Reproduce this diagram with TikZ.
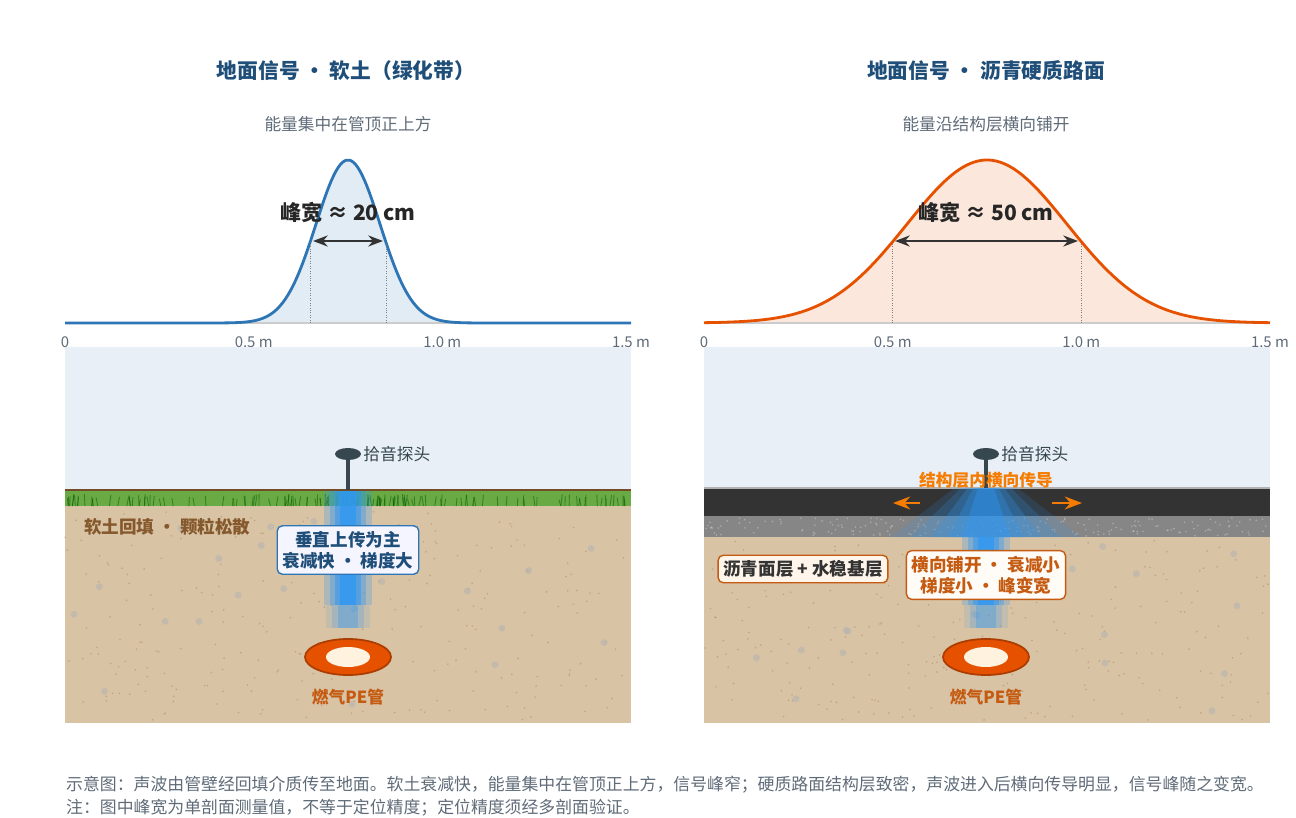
\documentclass[tikz,border=0pt]{standalone}
\usepackage{fontspec}
\setmainfont{Noto Sans CJK SC}
\usetikzlibrary{arrows.meta,shapes.geometric}
\definecolor{titleblue}{HTML}{1F4E79}
\definecolor{subgray}{HTML}{5F6B78}
\definecolor{sky}{HTML}{E8EFF7}
\definecolor{soil}{HTML}{D8C3A5}
\definecolor{grass}{HTML}{6AAA45}
\definecolor{probe}{HTML}{37474F}
\definecolor{beam}{HTML}{2E97F2}
\definecolor{pipeor}{HTML}{E65100}
\definecolor{pipein}{HTML}{FFF3E0}
\definecolor{softblue}{HTML}{2E75B6}
\definecolor{hardor}{HTML}{E65100}
\definecolor{labor}{HTML}{F57C00}
\definecolor{boxor}{HTML}{C55A11}
\tikzset{
  title/.style={font=\bfseries\fontsize{11.8}{14}\selectfont, text=titleblue},
  subtitle/.style={font=\fontsize{9.5}{11}\selectfont, text=subgray},
  tick/.style={font=\fontsize{8.5}{10}\selectfont, text=subgray},
  peaklab/.style={font=\bfseries\fontsize{12}{14}\selectfont, text=black!85},
  note/.style={rounded corners=3pt, fill=white!96!blue, line width=0.8pt, align=center,
    inner sep=3pt, font=\bfseries\fontsize{10}{12}\selectfont},
  pipelab/.style={font=\bfseries\fontsize{9.5}{11}\selectfont, text=boxor},
  foot/.style={font=\fontsize{9.6}{11}\selectfont, text=subgray, anchor=west}
}
\begin{document}
\begin{tikzpicture}[x=0.02cm,y=-0.02cm]
\useasboundingbox (0,0) rectangle (1296,818);
\pgfmathsetseed{7}
% ---- titles
\node[title] (t1) at (346,71) {地面信号 • 软土（绿化带）};
\node[title] (t2) at (986,71) {地面信号 • 沥青硬质路面};
\node[subtitle] (s1) at (348,124) {能量集中在管顶正上方};
\node[subtitle] (s2) at (986,124) {能量沿结构层横向铺开};
% ---- curves
\foreach \ox/\c/\sg/\w in {65/softblue/32/38, 704/hardor/80/94.5}{
  \begin{scope}[xshift=\ox*0.02cm]
  \fill[\c!14] (0,323) -- plot[domain=0:566,samples=150,smooth] (\x,{323-163*exp(-0.5*((\x-283)/\sg)^2)}) -- (566,323) -- cycle;
  \draw[gray!40, line width=0.8pt] (0,323) -- (566,323);
  \draw[\c, line width=1.6pt] plot[domain=0:566,samples=150,smooth] (\x,{323-163*exp(-0.5*((\x-283)/\sg)^2)});
  \draw[gray, densely dotted] (283-\w,323) -- (283-\w,{323-163*exp(-0.5*(\w/\sg)^2)});
  \draw[gray, densely dotted] (283+\w,323) -- (283+\w,{323-163*exp(-0.5*(\w/\sg)^2)});
  \foreach \p/\t in {0/0, 188.7/0.5 m, 377.3/1.0 m, 566/1.5 m}
    \node[tick] at (\p,342) {\t};
  \end{scope}}
\node[peaklab] (p1) at (348,212) {峰宽 ≈ 20 cm};
\node[peaklab] (p2) at (986,212) {峰宽 ≈ 50 cm};
\coordinate (a1l) at (313,241); \coordinate (a1r) at (383,241);
\coordinate (a2l) at (895,241); \coordinate (a2r) at (1078,241);
\draw[{Stealth}-{Stealth}, line width=1.2pt, black!80] (a1l) -- (a1r);
\draw[{Stealth}-{Stealth}, line width=1.2pt, black!80] (a2l) -- (a2r);
% ---- left section
\fill[sky] (65,347) rectangle (631,490);
\fill[soil] (65,490) rectangle (631,723);
\foreach \i in {1,...,260}{
  \pgfmathsetmacro\xx{65+566*rnd}\pgfmathsetmacro\yy{510+210*rnd}
  \fill[brown!55!gray, opacity=0.45] (\xx,\yy) circle (0.9);}
\foreach \i in {1,...,25}{
  \pgfmathsetmacro\xx{70+556*rnd}\pgfmathsetmacro\yy{515+200*rnd}
  \fill[gray!60, opacity=0.5] (\xx,\yy) circle (3.5);}
\fill[grass] (65,490) rectangle (631,506);
\foreach \i in {1,...,140}{
  \pgfmathsetmacro\xx{66+563*rnd}
  \draw[green!35!black, opacity=0.5, line width=0.5pt] (\xx,506) -- ++({4*rnd-2},{-6-6*rnd});}
\draw[brown!60!black, line width=1.5pt] (65,490) -- (631,490);
\foreach \d/\o in {24/0.25, 18/0.35, 13/0.5, 8/0.7}
  \fill[beam, opacity=\o] (348-\d,491) rectangle (348+\d,605);
\foreach \d/\o in {22/0.12, 16/0.2, 10/0.3}
  \fill[beam, opacity=\o] (348-\d,605) rectangle (348+\d,628);
\node[font=\bfseries\fontsize{10}{12}\selectfont, text=brown!70!black, anchor=west] (soft) at (78,527) {软土回填 • 颗粒松散};
\node[note, draw=softblue, text=titleblue] (b1) at (348,550) {垂直上传为主\\衰减快 • 梯度大};
\fill[pipeor] (348,657) ellipse (43 and 18);
\draw[pipeor!75!black, line width=1pt] (348,657) ellipse (43 and 18);
\fill[pipein] (348,657) ellipse (22 and 10);
\node[pipelab] (pl1) at (348,697) {燃气PE管};
\coordinate (g1) at (348,490);
\node[fill=probe, ellipse, minimum width=26*0.02cm, minimum height=12*0.02cm, inner sep=0] (pr1) at (348,454) {};
\draw[probe, line width=2.5pt] (pr1) -- (g1);
\node[subtitle, anchor=west, text=probe, inner sep=1pt] at (pr1.east) {拾音探头};
% ---- right section
\fill[sky] (704,347) rectangle (1270,488);
\fill[soil] (704,537) rectangle (1270,723);
\foreach \i in {1,...,260}{
  \pgfmathsetmacro\xx{704+566*rnd}\pgfmathsetmacro\yy{540+180*rnd}
  \fill[brown!55!gray, opacity=0.45] (\xx,\yy) circle (0.9);}
\foreach \i in {1,...,20}{
  \pgfmathsetmacro\xx{710+556*rnd}\pgfmathsetmacro\yy{545+170*rnd}
  \fill[gray!60, opacity=0.5] (\xx,\yy) circle (3.5);}
\fill[black!80] (704,488) rectangle (1270,516);
\fill[gray!95] (704,516) rectangle (1270,537);
\foreach \i in {1,...,200}{
  \pgfmathsetmacro\xx{705+564*rnd}\pgfmathsetmacro\yy{518+18*rnd}
  \fill[white, opacity=0.3] (\xx,\yy) circle (0.9);}
\draw[gray!60, line width=1pt] (704,488) -- (1270,488);
\foreach \d/\o in {95/0.15, 75/0.2, 55/0.25, 38/0.3, 24/0.4}
  \fill[beam, opacity=\o] (986-\d/3,488) -- (986-\d,537) -- (986+\d,537) -- (986+\d/3,488) -- cycle;
\foreach \d/\o in {24/0.25, 18/0.35, 13/0.5, 8/0.7}
  \fill[beam, opacity=\o] (986-\d,537) rectangle (986+\d,605);
\foreach \d/\o in {22/0.12, 16/0.2, 10/0.3}
  \fill[beam, opacity=\o] (986-\d,605) rectangle (986+\d,628);
\coordinate (al1) at (920,503); \coordinate (al2) at (893,503);
\coordinate (ar1) at (1052,503); \coordinate (ar2) at (1082,503);
\draw[-{Stealth}, labor, line width=1.5pt] (al1) -- (al2);
\draw[-{Stealth}, labor, line width=1.5pt] (ar1) -- (ar2);
\node[note, draw=boxor, fill=white!92!orange, text=black!80] (b2) at (803,569) {沥青面层 + 水稳基层};
\node[note, draw=boxor, fill=white!97!orange, text=boxor] (b3) at (986,575) {横向铺开 • 衰减小\\梯度小 • 峰变宽};
\fill[pipeor] (986,657) ellipse (43 and 18);
\draw[pipeor!75!black, line width=1pt] (986,657) ellipse (43 and 18);
\fill[pipein] (986,657) ellipse (22 and 10);
\node[pipelab] (pl2) at (986,697) {燃气PE管};
\coordinate (g2) at (986,488);
\node[fill=probe, ellipse, minimum width=26*0.02cm, minimum height=12*0.02cm, inner sep=0] (pr2) at (986,454) {};
\draw[probe, line width=2.5pt] (pr2) -- (g2);
\node[subtitle, anchor=west, text=probe, inner sep=1pt] at (pr2.east) {拾音探头};
\node[font=\bfseries\fontsize{9.5}{11}\selectfont, text=labor] (lat) at (986,480) {结构层内横向传导};
% ---- footer
\node[foot] (f1) at (60,785) {示意图：声波由管壁经回填介质传至地面。软土衰减快，能量集中在管顶正上方，信号峰窄；硬质路面结构层致密，声波进入后横向传导明显，信号峰随之变宽。};
\node[foot] (f2) at (60,808) {注：图中峰宽为单剖面测量值，不等于定位精度；定位精度须经多剖面验证。};
\end{tikzpicture}
\end{document}
